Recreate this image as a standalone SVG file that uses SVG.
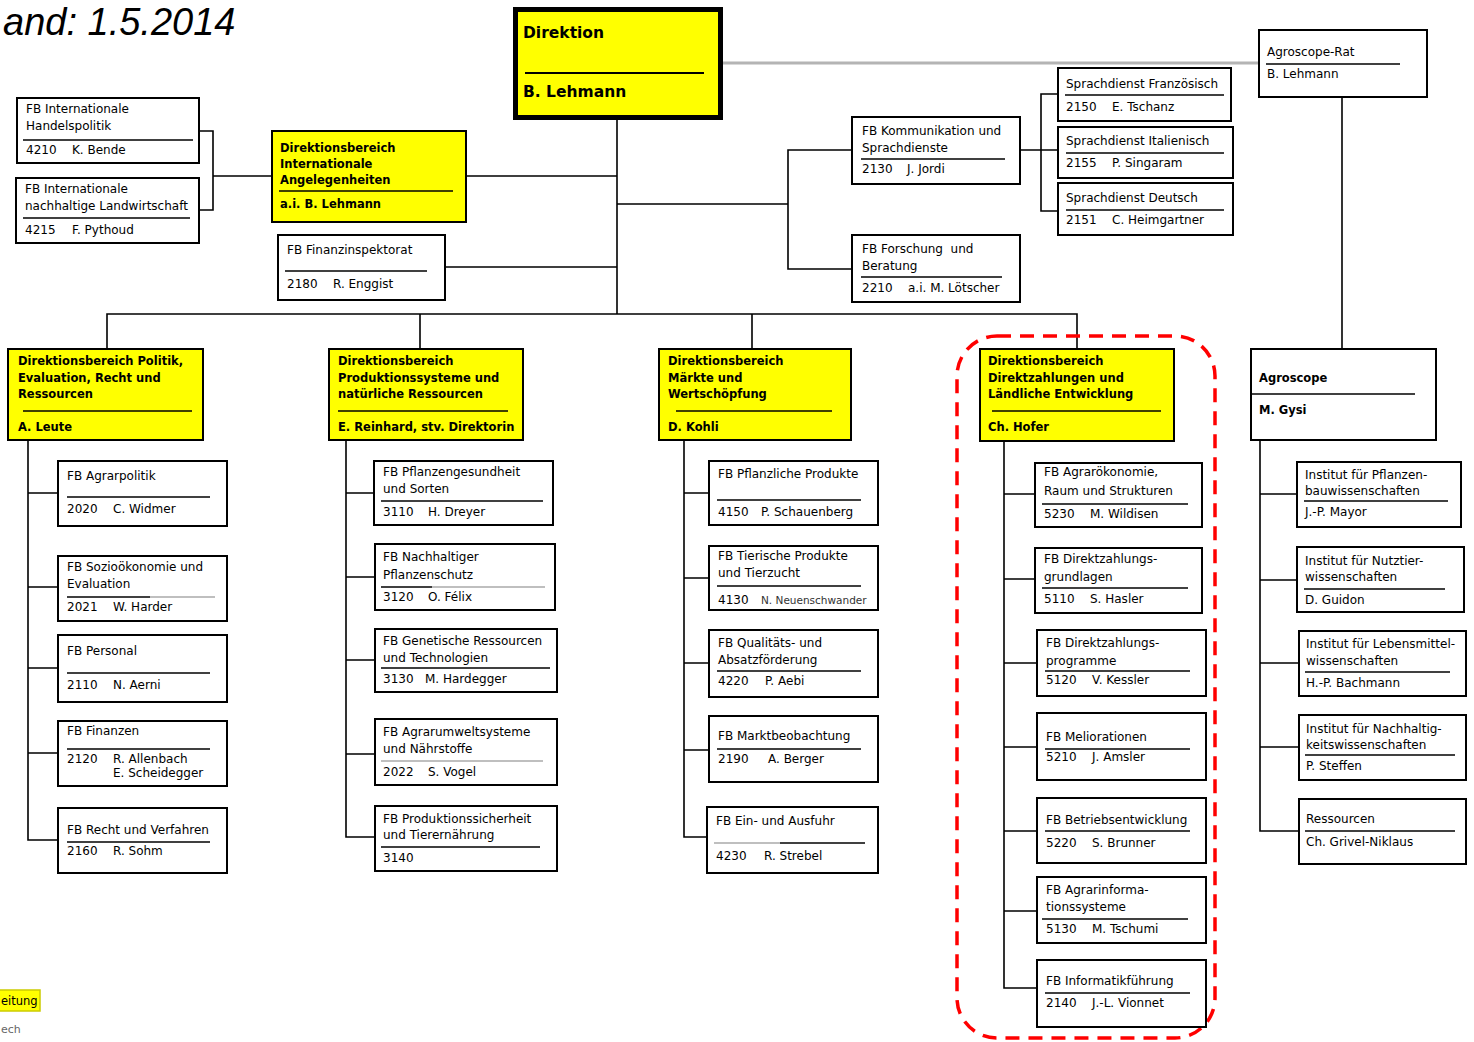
<svg xmlns="http://www.w3.org/2000/svg" width="1474" height="1042" viewBox="0 0 1474 1042">
<style>
.bx{fill:#fff;stroke:#000;stroke-width:2}
.yb{fill:#ff0;stroke:#000;stroke-width:2}
.rl{stroke:#000;stroke-width:1.6}
.rg{stroke:#aaa;stroke-width:1.6}
.cn{fill:none;stroke:#000;stroke-width:1.6}
text{font-family:"DejaVu Sans","Liberation Sans",sans-serif;font-size:12px;fill:#000}
.bd{font-weight:bold;font-size:11.5px}
.dk{font-weight:bold;font-size:15.5px}
.sm{font-size:10.5px;fill:#333}
.ti{font-family:"Liberation Sans",Arial,sans-serif;font-style:italic;font-size:38px}
</style>
<rect width="1474" height="1042" fill="#fff"/>
<text class="ti" x="3" y="35">and: 1.5.2014</text>

<g id="legend">
<rect x="-5" y="990" width="45" height="21" fill="#ff0" stroke="#cc0" stroke-width="1.5"/>
<text x="1" y="1005" style="font-size:11.5px">eitung</text>
<text x="1" y="1033" style="fill:#666;font-size:11px">ech</text>
</g>

<g id="connectors">
<path class="cn" d="M617,120V314M107,349V314H1077V349M420,314V349M752,314V349"/>
<path class="cn" d="M466,176H617M445,267H617"/>
<path class="cn" d="M199,131H213V210H199M213,176H272"/>
<path class="cn" d="M617,204H788M852,150H788V269H852"/>
<path class="cn" d="M1020,150H1058M1058,94H1041V211H1058"/>
<path class="cn" d="M1342,97V349"/>
<path d="M723,63H1259" fill="none" stroke="#b4b4b4" stroke-width="3"/>
<path class="cn" d="M28,440V840H58M28,493H58M28,587H58M28,668H58M28,753H58"/>
<path class="cn" d="M346,440V837H375M346,493H374M346,577H375M346,660H375M346,754H375"/>
<path class="cn" d="M684,440V837H707M684,493H709M684,578H709M684,663H709M684,750H709"/>
<path class="cn" d="M1004,441V988H1037M1004,494H1035M1004,579H1035M1004,663H1037M1004,747H1037M1004,831H1037M1004,911H1037"/>
<path class="cn" d="M1260,440V831H1299M1260,494H1297M1260,580H1297M1260,663H1299M1260,747H1299"/>
</g>

<g id="dl-highlight">
<rect x="957" y="336" width="258" height="702" rx="40" fill="none" stroke="#f00" stroke-width="3.5" stroke-dasharray="14 9"/>
</g>

<g id="direktion">
<rect x="515.5" y="9.5" width="205" height="108" fill="#ff0" stroke="#000" stroke-width="5"/>
<text class="dk" x="523" y="38">Direktion</text>
<line x1="525" y1="73" x2="704" y2="73" stroke="#000" stroke-width="2"/>
<text class="dk" x="523" y="97">B. Lehmann</text>
</g>

<g id="fb-handelspolitik">
<rect class="bx" x="17" y="98" width="182" height="65"/>
<text x="26" y="113">FB Internationale</text>
<text x="26" y="130">Handelspolitik</text>
<line class="rl" x1="23" y1="140" x2="193" y2="140"/>
<text x="26" y="154">4210</text><text x="72" y="154">K. Bende</text>
</g>

<g id="fb-landwirtschaft">
<rect class="bx" x="16" y="178" width="183" height="65"/>
<text x="25" y="193">FB Internationale</text>
<text x="25" y="210">nachhaltige Landwirtschaft</text>
<line class="rl" x1="23" y1="218" x2="190" y2="218"/>
<text x="25" y="234">4215</text><text x="72" y="234">F. Pythoud</text>
</g>

<g id="db-international">
<rect class="yb" x="272" y="131" width="194" height="91"/>
<text class="bd" x="280" y="152">Direktionsbereich</text>
<text class="bd" x="280" y="168">Internationale</text>
<text class="bd" x="280" y="184">Angelegenheiten</text>
<line class="rl" x1="279" y1="191" x2="453" y2="191"/>
<text class="bd" x="280" y="208">a.i. B. Lehmann</text>
</g>

<g id="fb-finanzinspektorat">
<rect class="bx" x="278" y="235" width="167" height="65"/>
<text x="287" y="254">FB Finanzinspektorat</text>
<line class="rl" x1="285" y1="271" x2="427" y2="271"/>
<text x="287" y="288">2180</text><text x="333" y="288">R. Enggist</text>
</g>

<g id="fb-kommunikation">
<rect class="bx" x="852" y="117" width="168" height="67"/>
<text x="862" y="135">FB Kommunikation und</text>
<text x="862" y="152">Sprachdienste</text>
<line class="rl" x1="861" y1="159" x2="1005" y2="159"/>
<text x="862" y="173">2130</text><text x="907" y="173">J. Jordi</text>
</g>

<g id="fb-forschung">
<rect class="bx" x="852" y="235" width="168" height="67"/>
<text x="862" y="253" xml:space="preserve">FB Forschung  und</text>
<text x="862" y="270">Beratung</text>
<line class="rl" x1="861" y1="277" x2="1002" y2="277"/>
<text x="862" y="292">2210</text><text x="908" y="292">a.i. M. Lötscher</text>
</g>

<g id="sd-franz">
<rect class="bx" x="1058" y="68" width="173" height="53"/>
<text x="1066" y="88">Sprachdienst Französisch</text>
<line class="rl" x1="1065" y1="95" x2="1224" y2="95"/>
<text x="1066" y="111">2150</text><text x="1112" y="111">E. Tschanz</text>
</g>
<g id="sd-ital">
<rect class="bx" x="1058" y="127" width="175" height="51"/>
<text x="1066" y="145">Sprachdienst Italienisch</text>
<line class="rl" x1="1066" y1="153" x2="1224" y2="153"/>
<text x="1066" y="167">2155</text><text x="1112" y="167">P. Singaram</text>
</g>
<g id="sd-deutsch">
<rect class="bx" x="1058" y="183" width="175" height="52"/>
<text x="1066" y="202">Sprachdienst Deutsch</text>
<line class="rl" x1="1066" y1="210" x2="1224" y2="210"/>
<text x="1066" y="224">2151</text><text x="1112" y="224">C. Heimgartner</text>
</g>

<g id="agroscope-rat">
<rect class="bx" x="1259" y="30" width="168" height="67"/>
<text x="1267" y="56">Agroscope-Rat</text>
<line class="rl" x1="1266" y1="64" x2="1400" y2="64"/>
<text x="1267" y="78">B. Lehmann</text>
</g>

<g id="db-politik">
<rect class="yb" x="8" y="349" width="195" height="91"/>
<text class="bd" x="18" y="365">Direktionsbereich Politik,</text>
<text class="bd" x="18" y="382">Evaluation, Recht und</text>
<text class="bd" x="18" y="398">Ressourcen</text>
<line class="rl" x1="23" y1="411" x2="192" y2="411"/>
<text class="bd" x="18" y="431">A. Leute</text>
</g>
<g id="db-produktion">
<rect class="yb" x="329" y="349" width="194" height="91"/>
<text class="bd" x="338" y="365">Direktionsbereich</text>
<text class="bd" x="338" y="382">Produktionssysteme und</text>
<text class="bd" x="338" y="398">natürliche Ressourcen</text>
<line class="rl" x1="338" y1="411" x2="508" y2="411"/>
<text class="bd" x="338" y="431">E. Reinhard, stv. Direktorin</text>
</g>
<g id="db-maerkte">
<rect class="yb" x="659" y="349" width="192" height="91"/>
<text class="bd" x="668" y="365">Direktionsbereich</text>
<text class="bd" x="668" y="382">Märkte und</text>
<text class="bd" x="668" y="398">Wertschöpfung</text>
<line class="rl" x1="676" y1="411" x2="832" y2="411"/>
<text class="bd" x="668" y="431">D. Kohli</text>
</g>
<g id="db-direktzahlungen">
<rect class="yb" x="980" y="349" width="194" height="92"/>
<text class="bd" x="988" y="365">Direktionsbereich</text>
<text class="bd" x="988" y="382">Direktzahlungen und</text>
<text class="bd" x="988" y="398">Ländliche Entwicklung</text>
<line class="rl" x1="992" y1="411" x2="1161" y2="411"/>
<text class="bd" x="988" y="431">Ch. Hofer</text>
</g>
<g id="agroscope">
<rect class="bx" x="1251" y="349" width="185" height="91"/>
<text class="bd" x="1259" y="382">Agroscope</text>
<line class="rl" x1="1251" y1="394" x2="1415" y2="394"/>
<text class="bd" x="1259" y="414">M. Gysi</text>
</g>

<g id="fb-agrarpolitik">
<rect class="bx" x="58" y="461" width="169" height="65"/>
<text x="67" y="480">FB Agrarpolitik</text>
<line class="rl" x1="67" y1="497" x2="210" y2="497"/>
<text x="67" y="513">2020</text><text x="113" y="513">C. Widmer</text>
</g>
<g id="fb-soziooekonomie">
<rect class="bx" x="58" y="556" width="169" height="65"/>
<text x="67" y="571">FB Sozioökonomie und</text>
<text x="67" y="588">Evaluation</text>
<line class="rl" x1="67" y1="597" x2="150" y2="597"/><line class="rg" x1="150" y1="597" x2="215" y2="597"/>
<text x="67" y="611">2021</text><text x="113" y="611">W. Harder</text>
</g>
<g id="fb-personal">
<rect class="bx" x="58" y="635" width="169" height="67"/>
<text x="67" y="655">FB Personal</text>
<line class="rl" x1="67" y1="673" x2="210" y2="673"/>
<text x="67" y="689">2110</text><text x="113" y="689">N. Aerni</text>
</g>
<g id="fb-finanzen">
<rect class="bx" x="58" y="721" width="169" height="65"/>
<text x="67" y="735">FB Finanzen</text>
<line class="rl" x1="67" y1="749" x2="210" y2="749"/>
<text x="67" y="763">2120</text><text x="113" y="763">R. Allenbach</text>
<text x="113" y="777">E. Scheidegger</text>
</g>
<g id="fb-recht">
<rect class="bx" x="58" y="808" width="169" height="65"/>
<text x="67" y="834">FB Recht und Verfahren</text>
<line class="rl" x1="67" y1="842" x2="210" y2="842"/>
<text x="67" y="855">2160</text><text x="113" y="855">R. Sohm</text>
</g>

<g id="fb-pflanzengesundheit">
<rect class="bx" x="374" y="461" width="179" height="64"/>
<text x="383" y="476">FB Pflanzengesundheit</text>
<text x="383" y="493">und Sorten</text>
<line class="rl" x1="381" y1="501" x2="543" y2="501"/>
<text x="383" y="516">3110</text><text x="428" y="516">H. Dreyer</text>
</g>
<g id="fb-pflanzenschutz">
<rect class="bx" x="375" y="544" width="180" height="66"/>
<text x="383" y="561">FB Nachhaltiger</text>
<text x="383" y="579">Pflanzenschutz</text>
<line class="rl" x1="381" y1="587" x2="432" y2="587"/><line class="rg" x1="432" y1="587" x2="545" y2="587"/>
<text x="383" y="601">3120</text><text x="428" y="601">O. Félix</text>
</g>
<g id="fb-genetische">
<rect class="bx" x="375" y="629" width="182" height="63"/>
<text x="383" y="645">FB Genetische Ressourcen</text>
<text x="383" y="662">und Technologien</text>
<line class="rl" x1="381" y1="668" x2="550" y2="668"/>
<text x="383" y="683">3130</text><text x="425" y="683">M. Hardegger</text>
</g>
<g id="fb-agrarumwelt">
<rect class="bx" x="375" y="719" width="182" height="66"/>
<text x="383" y="736">FB Agrarumweltsysteme</text>
<text x="383" y="753">und Nährstoffe</text>
<line class="rg" x1="381" y1="761" x2="543" y2="761"/>
<text x="383" y="776">2022</text><text x="428" y="776">S. Vogel</text>
</g>
<g id="fb-produktionssicherheit">
<rect class="bx" x="375" y="806" width="182" height="65"/>
<text x="383" y="823">FB Produktionssicherheit</text>
<text x="383" y="839">und Tierernährung</text>
<line class="rl" x1="381" y1="847" x2="540" y2="847"/>
<text x="383" y="862">3140</text>
</g>

<g id="fb-pflanzliche">
<rect class="bx" x="709" y="461" width="169" height="64"/>
<text x="718" y="478">FB Pflanzliche Produkte</text>
<line class="rl" x1="717" y1="500" x2="861" y2="500"/>
<text x="718" y="516">4150</text><text x="761" y="516">P. Schauenberg</text>
</g>
<g id="fb-tierische">
<rect class="bx" x="709" y="546" width="169" height="64"/>
<text x="718" y="560">FB Tierische Produkte</text>
<text x="718" y="577">und Tierzucht</text>
<line class="rl" x1="717" y1="586" x2="861" y2="586"/>
<text x="718" y="604">4130</text><text class="sm" x="761" y="604">N. Neuenschwander</text>
</g>
<g id="fb-qualitaet">
<rect class="bx" x="709" y="630" width="169" height="67"/>
<text x="718" y="647">FB Qualitäts- und</text>
<text x="718" y="664">Absatzförderung</text>
<line class="rl" x1="717" y1="671" x2="861" y2="671"/>
<text x="718" y="685">4220</text><text x="765" y="685">P. Aebi</text>
</g>
<g id="fb-marktbeobachtung">
<rect class="bx" x="709" y="716" width="169" height="66"/>
<text x="718" y="740">FB Marktbeobachtung</text>
<line class="rl" x1="717" y1="749" x2="861" y2="749"/>
<text x="718" y="763">2190</text><text x="768" y="763">A. Berger</text>
</g>
<g id="fb-einausfuhr">
<rect class="bx" x="707" y="807" width="171" height="66"/>
<text x="716" y="825">FB Ein- und Ausfuhr</text>
<line class="rg" x1="714" y1="843" x2="780" y2="843"/><line class="rl" x1="780" y1="843" x2="865" y2="843"/>
<text x="716" y="860">4230</text><text x="764" y="860">R. Strebel</text>
</g>

<g id="fb-agraroekonomie">
<rect class="bx" x="1035" y="463" width="167" height="64"/>
<text x="1044" y="476">FB Agrarökonomie,</text>
<text x="1044" y="495">Raum und Strukturen</text>
<line class="rl" x1="1042" y1="504" x2="1188" y2="504"/>
<text x="1044" y="518">5230</text><text x="1090" y="518">M. Wildisen</text>
</g>
<g id="fb-dz-grundlagen">
<rect class="bx" x="1035" y="548" width="167" height="65"/>
<text x="1044" y="563">FB Direktzahlungs-</text>
<text x="1044" y="581">grundlagen</text>
<line class="rl" x1="1042" y1="588" x2="1188" y2="588"/>
<text x="1044" y="603">5110</text><text x="1090" y="603">S. Hasler</text>
</g>
<g id="fb-dz-programme">
<rect class="bx" x="1037" y="630" width="169" height="66"/>
<text x="1046" y="647">FB Direktzahlungs-</text>
<text x="1046" y="665">programme</text>
<line class="rl" x1="1045" y1="671" x2="1190" y2="671"/>
<text x="1046" y="684">5120</text><text x="1092" y="684">V. Kessler</text>
</g>
<g id="fb-meliorationen">
<rect class="bx" x="1037" y="713" width="169" height="67"/>
<text x="1046" y="741">FB Meliorationen</text>
<line class="rl" x1="1045" y1="749" x2="1190" y2="749"/>
<text x="1046" y="761">5210</text><text x="1092" y="761">J. Amsler</text>
</g>
<g id="fb-betriebsentwicklung">
<rect class="bx" x="1037" y="798" width="169" height="65"/>
<text x="1046" y="824">FB Betriebsentwicklung</text>
<line class="rl" x1="1045" y1="831" x2="1190" y2="831"/>
<text x="1046" y="847">5220</text><text x="1092" y="847">S. Brunner</text>
</g>
<g id="fb-agrarinformation">
<rect class="bx" x="1037" y="877" width="169" height="66"/>
<text x="1046" y="894">FB Agrarinforma-</text>
<text x="1046" y="911">tionssysteme</text>
<line class="rl" x1="1042" y1="919" x2="1188" y2="919"/>
<text x="1046" y="933">5130</text><text x="1092" y="933">M. Tschumi</text>
</g>
<g id="fb-informatik">
<rect class="bx" x="1037" y="960" width="169" height="67"/>
<text x="1046" y="985">FB Informatikführung</text>
<line class="rl" x1="1045" y1="993" x2="1190" y2="993"/>
<text x="1046" y="1007">2140</text><text x="1092" y="1007">J.-L. Vionnet</text>
</g>

<g id="inst-pflanzenbau">
<rect class="bx" x="1297" y="462" width="164" height="65"/>
<text x="1305" y="479">Institut für Pflanzen-</text>
<text x="1305" y="495">bauwissenschaften</text>
<line class="rl" x1="1304" y1="501" x2="1448" y2="501"/>
<text x="1305" y="516">J.-P. Mayor</text>
</g>
<g id="inst-nutztier">
<rect class="bx" x="1297" y="547" width="167" height="65"/>
<text x="1305" y="565">Institut für Nutztier-</text>
<text x="1305" y="581">wissenschaften</text>
<line class="rl" x1="1304" y1="589" x2="1445" y2="589"/>
<text x="1305" y="604">D. Guidon</text>
</g>
<g id="inst-lebensmittel">
<rect class="bx" x="1299" y="631" width="167" height="65"/>
<text x="1306" y="648">Institut für Lebensmittel-</text>
<text x="1306" y="665">wissenschaften</text>
<line class="rl" x1="1305" y1="672" x2="1450" y2="672"/>
<text x="1306" y="687">H.-P. Bachmann</text>
</g>
<g id="inst-nachhaltigkeit">
<rect class="bx" x="1299" y="715" width="167" height="65"/>
<text x="1306" y="733">Institut für Nachhaltig-</text>
<text x="1306" y="749">keitswissenschaften</text>
<line class="rl" x1="1305" y1="755" x2="1455" y2="755"/>
<text x="1306" y="770">P. Steffen</text>
</g>
<g id="ressourcen">
<rect class="bx" x="1299" y="799" width="167" height="65"/>
<text x="1306" y="823">Ressourcen</text>
<line class="rl" x1="1305" y1="831" x2="1455" y2="831"/>
<text x="1306" y="846">Ch. Grivel-Niklaus</text>
</g>
</svg>
